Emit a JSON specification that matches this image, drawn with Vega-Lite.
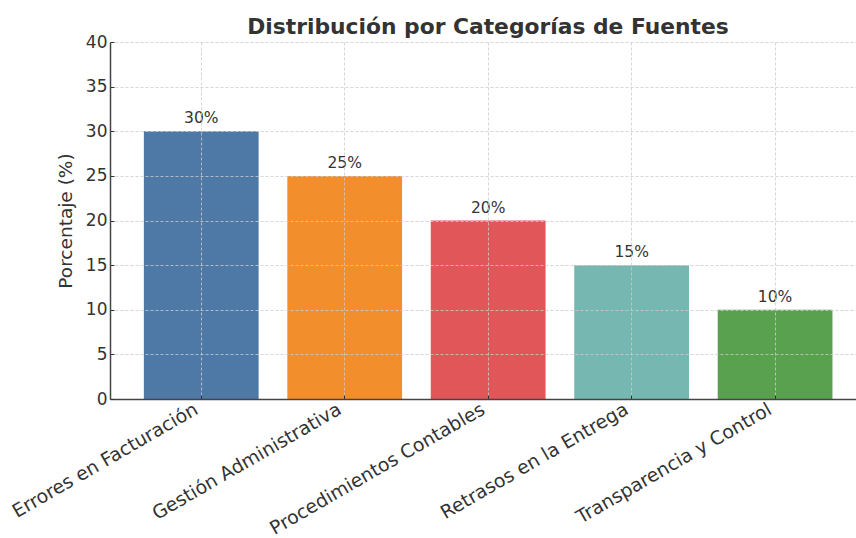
{
  "$schema": "https://vega.github.io/schema/vega-lite/v6.json",
  "width": 746,
  "height": 357,
  "autosize": "none",
  "padding": {"left": 110, "top": 42, "right": 0, "bottom": 139},
  "background": "white",
  "title": {
    "text": "Distribución por Categorías de Fuentes",
    "font": "DejaVu Sans",
    "fontSize": 21.8,
    "fontWeight": "bold",
    "color": "#333333",
    "anchor": "middle",
    "dx": 5,
    "offset": 0,
    "dy": 6
  },
  "config": {
    "view": {"stroke": null},
    "font": "DejaVu Sans"
  },
  "data": {
    "values": [
      {"categoria": "Errores en Facturación", "porcentaje": 30, "etiqueta": "30%"},
      {"categoria": "Gestión Administrativa", "porcentaje": 25, "etiqueta": "25%"},
      {"categoria": "Procedimientos Contables", "porcentaje": 20, "etiqueta": "20%"},
      {"categoria": "Retrasos en la Entrega", "porcentaje": 15, "etiqueta": "15%"},
      {"categoria": "Transparencia y Control", "porcentaje": 10, "etiqueta": "10%"}
    ]
  },
  "encoding": {
    "x": {
      "field": "categoria",
      "type": "nominal",
      "sort": null,
      "scale": {"paddingInner": 0.2, "paddingOuter": 0.2, "align": 0.59},
      "axis": {
        "title": null,
        "labelAngle": -30,
        "labelAlign": "right",
        "labelBaseline": "bottom",
        "labelFontSize": 18.8,
        "labelLimit": 0,
        "labelColor": "#333333",
        "labelPadding": 21,
        "tickSize": -4,
        "tickColor": "#333333",
        "domainColor": "#444444",
        "domainWidth": 1.5,
        "grid": true,
        "gridColor": "#cccccc",
        "gridDash": [3, 2],
        "gridWidth": 0.8,
        "zindex": 1
      }
    },
    "y": {
      "field": "porcentaje",
      "type": "quantitative",
      "scale": {"domain": [0, 40]},
      "axis": {
        "title": "Porcentaje (%)",
        "titleFontSize": 18.5,
        "titleFontWeight": "normal",
        "titleColor": "#333333",
        "titlePadding": 10,
        "values": [0, 5, 10, 15, 20, 25, 30, 35, 40],
        "labelFontSize": 17,
        "labelColor": "#333333",
        "labelPadding": 7,
        "tickSize": -4,
        "tickColor": "#333333",
        "domainColor": "#444444",
        "domainWidth": 1.5,
        "grid": true,
        "gridColor": "#cccccc",
        "gridDash": [3, 2],
        "gridWidth": 0.8,
        "zindex": 1
      }
    }
  },
  "layer": [
    {
      "mark": {"type": "bar"},
      "encoding": {
        "color": {
          "field": "categoria",
          "type": "nominal",
          "sort": null,
          "scale": {
            "domain": ["Errores en Facturación", "Gestión Administrativa", "Procedimientos Contables", "Retrasos en la Entrega", "Transparencia y Control"],
            "range": ["#4e79a7", "#f28e2b", "#e15759", "#76b7b2", "#59a14f"]
          },
          "legend": null
        }
      }
    },
    {
      "mark": {"type": "text", "baseline": "bottom", "dy": -5, "fontSize": 15.5, "color": "#333333"},
      "encoding": {
        "text": {"field": "etiqueta"}
      }
    }
  ]
}
